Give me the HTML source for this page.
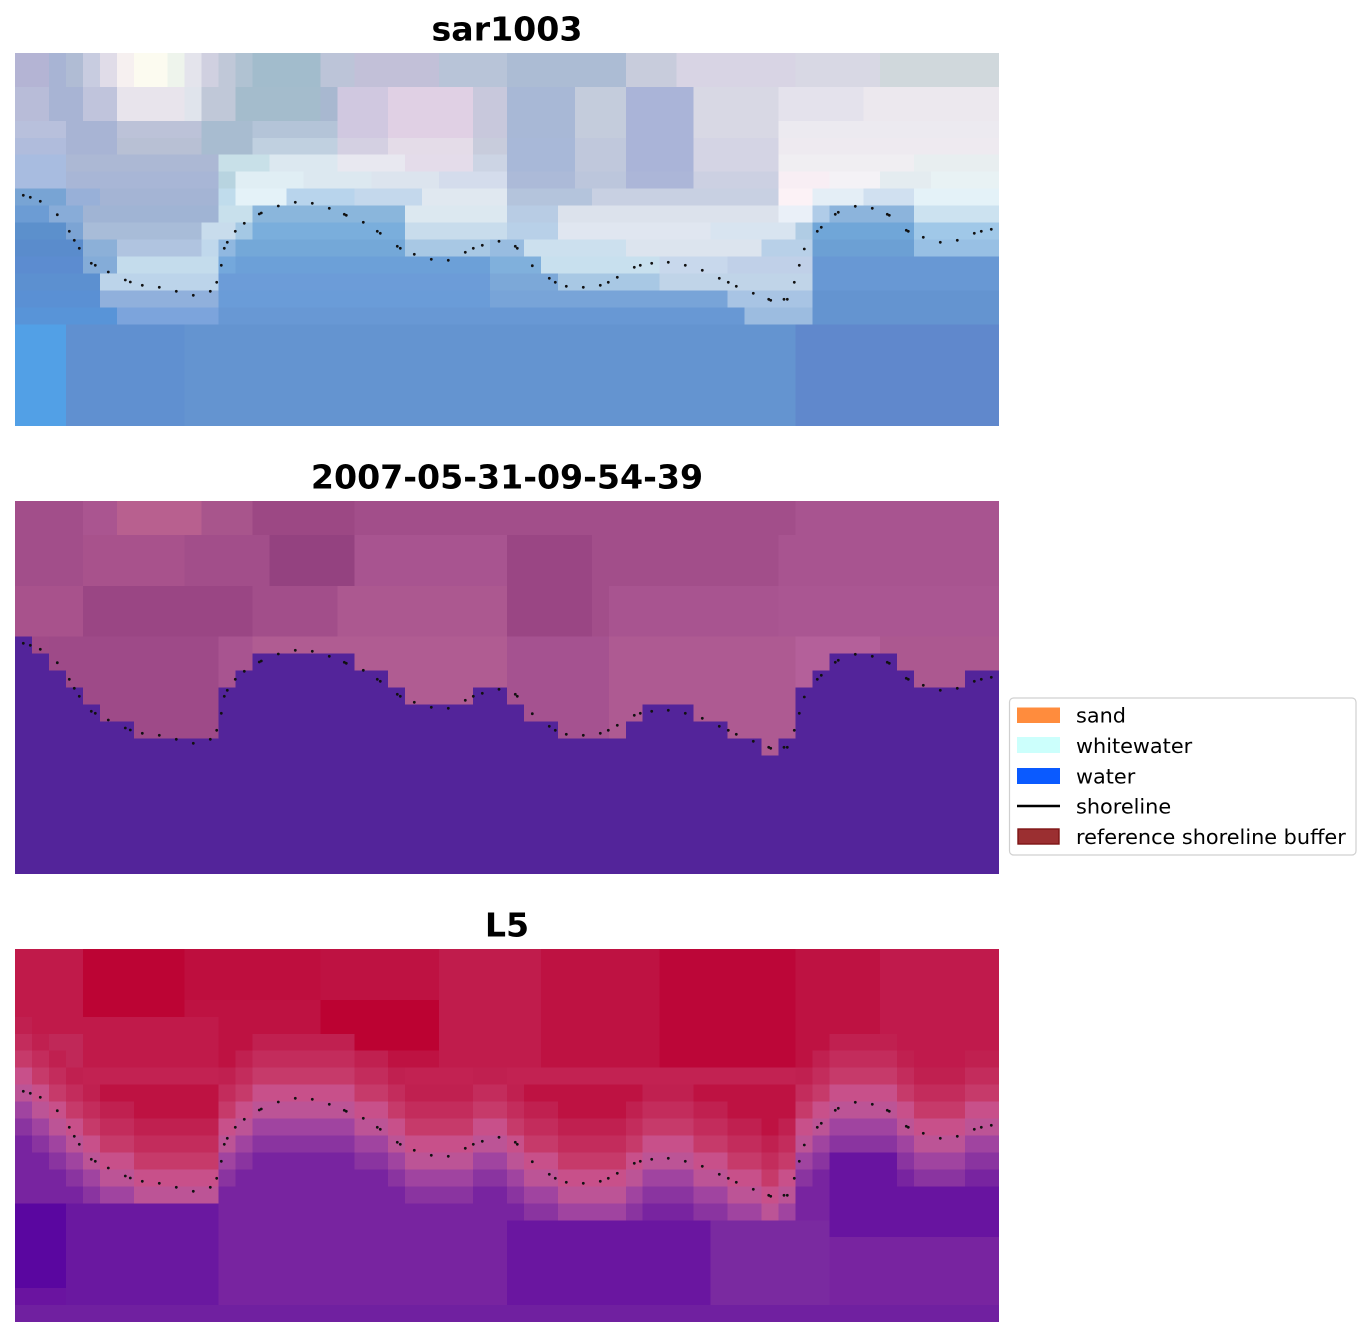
<!DOCTYPE html>
<html><head><meta charset="utf-8"><style>
html,body{margin:0;padding:0;background:#fff;width:1370px;height:1337px;overflow:hidden;}
svg{display:block;}
text{font-family:"DejaVu Sans","Liberation Sans",sans-serif;fill:#000;}
</style></head><body>
<svg width="1370" height="1337" viewBox="0 0 1370 1337" xmlns="http://www.w3.org/2000/svg">
<defs>
<path id="wb" d="M0,8 H1 V9 H2 V10 H3 V11 H4 V12 H5 V13 H7 V14 H12 V11 H13 V10 H14 V9 H20 V10 H22 V11 H23 V12 H27 V11 H29 V12 H30 V13 H32 V14 H36 V13 H37 V12 H40 V13 H42 V14 H44 V15 H45 V14 H46 V11 H47 V10 H48 V9 H52 V10 H53 V11 H56 V10 H58 V22 H0 Z"/>
<path id="wb3" d="M0,8 H1 V9 H2 V10 H3 V11 H4 V12 H5 V13 H7 V14 H12 V11 H13 V10 H14 V9 H20 V10 H22 V11 H23 V12 H27 V11 H29 V12 H30 V13 H32 V14 H36 V13 H37 V12 H40 V13 H42 V14 H44 V15 H45 V14 H46 V11 H47 V10 H48 V9 H52 V10 H53 V11 H56 V10 H58 V19 H0 Z"/>
<g id="dots" fill="#111">
<circle cx="23.3" cy="195.3" r="1.4"/><circle cx="30.3" cy="197.3" r="1.4"/><circle cx="40.3" cy="201.3" r="1.4"/><circle cx="57.3" cy="214.7" r="1.4"/><circle cx="69.3" cy="231.3" r="1.4"/><circle cx="74.3" cy="240.3" r="1.4"/><circle cx="79.3" cy="248.3" r="1.4"/><circle cx="91.3" cy="263.3" r="1.4"/><circle cx="95.3" cy="265.3" r="1.4"/><circle cx="108.3" cy="272" r="1.4"/><circle cx="125.3" cy="280" r="1.4"/><circle cx="130.3" cy="282" r="1.4"/><circle cx="142.3" cy="285.3" r="1.4"/><circle cx="159.3" cy="287.3" r="1.4"/><circle cx="176.3" cy="291.3" r="1.4"/><circle cx="193.3" cy="295.3" r="1.4"/><circle cx="210.3" cy="291.3" r="1.4"/><circle cx="216.7" cy="282.3" r="1.4"/><circle cx="221.3" cy="265.3" r="1.4"/><circle cx="224.3" cy="248.3" r="1.4"/><circle cx="227.3" cy="242.3" r="1.4"/><circle cx="235.3" cy="231.3" r="1.4"/><circle cx="244.3" cy="223.3" r="1.4"/><circle cx="259.3" cy="214" r="1.4"/><circle cx="261.3" cy="213" r="1.4"/><circle cx="278.3" cy="206" r="1.4"/><circle cx="295.3" cy="202.3" r="1.4"/><circle cx="312.3" cy="203.3" r="1.4"/><circle cx="329.3" cy="208.3" r="1.4"/><circle cx="344.3" cy="214.3" r="1.4"/><circle cx="346.3" cy="215.3" r="1.4"/><circle cx="363.3" cy="222.3" r="1.4"/><circle cx="377.3" cy="231.3" r="1.4"/><circle cx="380.3" cy="233.3" r="1.4"/><circle cx="397.3" cy="246.3" r="1.4"/><circle cx="400.3" cy="248.3" r="1.4"/><circle cx="414.3" cy="254.3" r="1.4"/><circle cx="431.3" cy="259.3" r="1.4"/><circle cx="448.3" cy="260.3" r="1.4"/><circle cx="465.3" cy="252.3" r="1.4"/><circle cx="473.3" cy="248.3" r="1.4"/><circle cx="482.3" cy="245.3" r="1.4"/><circle cx="499" cy="241.3" r="1.4"/><circle cx="515.3" cy="246.3" r="1.4"/><circle cx="517.3" cy="248.3" r="1.4"/><circle cx="532.3" cy="265.7" r="1.4"/><circle cx="549.3" cy="278.3" r="1.4"/><circle cx="555.3" cy="282.3" r="1.4"/><circle cx="566.3" cy="286.3" r="1.4"/><circle cx="583.3" cy="287.3" r="1.4"/><circle cx="600.3" cy="285.3" r="1.4"/><circle cx="608.3" cy="282.3" r="1.4"/><circle cx="617.3" cy="277.3" r="1.4"/><circle cx="634.3" cy="267.3" r="1.4"/><circle cx="640.3" cy="265.3" r="1.4"/><circle cx="651.7" cy="263.3" r="1.4"/><circle cx="668.3" cy="262.3" r="1.4"/><circle cx="685.3" cy="265.3" r="1.4"/><circle cx="702.3" cy="270.3" r="1.4"/><circle cx="719.3" cy="278.3" r="1.4"/><circle cx="728.3" cy="282.3" r="1.4"/><circle cx="736.3" cy="286.3" r="1.4"/><circle cx="753.3" cy="293.3" r="1.4"/><circle cx="768.7" cy="299.3" r="1.4"/><circle cx="770.7" cy="300.3" r="1.4"/><circle cx="784" cy="299.3" r="1.4"/><circle cx="787.3" cy="299.3" r="1.4"/><circle cx="794.3" cy="282.3" r="1.4"/><circle cx="799.3" cy="265.3" r="1.4"/><circle cx="804.3" cy="249" r="1.4"/><circle cx="817.3" cy="231.3" r="1.4"/><circle cx="821.3" cy="227.3" r="1.4"/><circle cx="835.3" cy="214.3" r="1.4"/><circle cx="838.3" cy="212.3" r="1.4"/><circle cx="855.3" cy="206.3" r="1.4"/><circle cx="872.3" cy="208.3" r="1.4"/><circle cx="887.3" cy="214.3" r="1.4"/><circle cx="889.3" cy="215.3" r="1.4"/><circle cx="906.3" cy="230.3" r="1.4"/><circle cx="908.3" cy="231.3" r="1.4"/><circle cx="923.3" cy="237.3" r="1.4"/><circle cx="940.3" cy="242.3" r="1.4"/><circle cx="957.3" cy="240.3" r="1.4"/><circle cx="974.3" cy="233.3" r="1.4"/><circle cx="981.3" cy="231.3" r="1.4"/><circle cx="991.3" cy="229.3" r="1.4"/>
</g>
</defs>
<rect width="1370" height="1337" fill="#fff"/>

<!-- Titles -->
<text x="507" y="40.5" font-size="33.2" font-weight="bold" text-anchor="middle">sar1003</text>
<text x="507" y="488.5" font-size="33.2" font-weight="bold" text-anchor="middle">2007-05-31-09-54-39</text>
<text x="507" y="936.5" font-size="33.2" font-weight="bold" text-anchor="middle">L5</text>

<!-- Panel 1 -->
<svg x="15" y="53" width="984" height="373" viewBox="0 0 58 22" preserveAspectRatio="none" shape-rendering="crispEdges">
<rect width="58" height="22" fill="#6494d0"/>
<g>
<rect x="0" y="0" width="58" height="2" fill="#b8c4d8"/>
<rect x="0" y="0" width="2" height="2" fill="#b4b4d4"/><rect x="2" y="0" width="1" height="2" fill="#a8b4d4"/><rect x="3" y="0" width="1" height="2" fill="#b0bcd4"/><rect x="4" y="0" width="1" height="2" fill="#c8cce0"/><rect x="5" y="0" width="1" height="2" fill="#e0dce8"/><rect x="6" y="0" width="1" height="2" fill="#f6f0f0"/><rect x="7" y="0" width="2" height="2" fill="#fcfbf0"/><rect x="9" y="0" width="1" height="2" fill="#eef4ec"/><rect x="10" y="0" width="1" height="2" fill="#e4e4ec"/><rect x="11" y="0" width="1" height="2" fill="#d0d0e0"/><rect x="12" y="0" width="1" height="2" fill="#c0c8d8"/><rect x="13" y="0" width="1" height="2" fill="#b0c2d2"/><rect x="14" y="0" width="4" height="2" fill="#a2bccc"/><rect x="18" y="0" width="2" height="2" fill="#bcc4d8"/><rect x="20" y="0" width="5" height="2" fill="#c2c0d8"/><rect x="25" y="0" width="4" height="2" fill="#b8c4d8"/><rect x="29" y="0" width="7" height="2" fill="#acbcd4"/><rect x="36" y="0" width="3" height="2" fill="#c8ccdc"/><rect x="39" y="0" width="7" height="2" fill="#d8d4e4"/><rect x="46" y="0" width="5" height="2" fill="#d8d8e4"/><rect x="51" y="0" width="7" height="2" fill="#d0d8dc"/>

<rect x="0" y="2" width="2" height="2" fill="#b8bcd8"/><rect x="2" y="2" width="2" height="2" fill="#a8b4d4"/><rect x="4" y="2" width="2" height="2" fill="#c0c4dc"/><rect x="6" y="2" width="4" height="2" fill="#e8e4ec"/><rect x="10" y="2" width="1" height="2" fill="#e0e4ec"/><rect x="11" y="2" width="2" height="2" fill="#c0c8d8"/><rect x="13" y="2" width="5" height="2" fill="#a4bccc"/><rect x="18" y="2" width="1" height="2" fill="#a8b8d0"/><rect x="19" y="2" width="3" height="2" fill="#d0c8e0"/><rect x="22" y="2" width="5" height="2" fill="#e0d0e4"/><rect x="27" y="2" width="2" height="2" fill="#c8c8dc"/><rect x="29" y="2" width="4" height="2" fill="#a8b8d6"/><rect x="33" y="2" width="3" height="2" fill="#c4ccdc"/><rect x="36" y="2" width="4" height="2" fill="#aab4d8"/><rect x="40" y="2" width="5" height="2" fill="#d8d8e4"/><rect x="45" y="2" width="5" height="2" fill="#e4e2ec"/><rect x="50" y="2" width="8" height="2" fill="#ece8ee"/>

<rect x="0" y="4" width="3" height="1" fill="#b8c0dc"/><rect x="3" y="4" width="3" height="1" fill="#a8b4d4"/><rect x="6" y="4" width="5" height="1" fill="#bcc2d8"/><rect x="11" y="4" width="3" height="1" fill="#a8bcd0"/><rect x="14" y="4" width="5" height="1" fill="#b4c4d8"/><rect x="19" y="4" width="3" height="1" fill="#d0c8e0"/><rect x="22" y="4" width="5" height="1" fill="#e0d0e4"/><rect x="27" y="4" width="2" height="1" fill="#c8c8dc"/><rect x="29" y="4" width="4" height="1" fill="#a8b8d6"/><rect x="33" y="4" width="3" height="1" fill="#c4ccdc"/><rect x="36" y="4" width="4" height="1" fill="#aab4d8"/><rect x="40" y="4" width="5" height="1" fill="#d8d8e4"/><rect x="45" y="4" width="13" height="1" fill="#eceaf0"/>

<rect x="0" y="5" width="3" height="1" fill="#b0bcdc"/><rect x="3" y="5" width="3" height="1" fill="#a8b4d4"/><rect x="6" y="5" width="5" height="1" fill="#b8c0d4"/><rect x="11" y="5" width="3" height="1" fill="#a8bcd0"/><rect x="14" y="5" width="5" height="1" fill="#c0d0e0"/><rect x="19" y="5" width="3" height="1" fill="#d4d0e2"/><rect x="22" y="5" width="5" height="1" fill="#e4dce8"/><rect x="27" y="5" width="2" height="1" fill="#c8ccdc"/><rect x="29" y="5" width="4" height="1" fill="#a8b8d8"/><rect x="33" y="5" width="3" height="1" fill="#c0c8dc"/><rect x="36" y="5" width="4" height="1" fill="#aab4d8"/><rect x="40" y="5" width="5" height="1" fill="#d4d4e4"/><rect x="45" y="5" width="13" height="1" fill="#eeeaf0"/>

<rect x="0" y="6" width="3" height="1" fill="#a8bce0"/><rect x="3" y="6" width="9" height="1" fill="#acb8d4"/><rect x="12" y="6" width="3" height="1" fill="#c8e0e8"/><rect x="15" y="6" width="4" height="1" fill="#dce8f0"/><rect x="19" y="6" width="4" height="1" fill="#e8e8f0"/><rect x="23" y="6" width="4" height="1" fill="#e4dcea"/><rect x="27" y="6" width="2" height="1" fill="#ccd4e4"/><rect x="29" y="6" width="4" height="1" fill="#a8b8d8"/><rect x="33" y="6" width="3" height="1" fill="#c0c8dc"/><rect x="36" y="6" width="4" height="1" fill="#aab4d8"/><rect x="40" y="6" width="5" height="1" fill="#d4d4e4"/><rect x="45" y="6" width="8" height="1" fill="#f0eef2"/><rect x="53" y="6" width="5" height="1" fill="#e8eef0"/>

<rect x="0" y="7" width="3" height="1" fill="#a8bce0"/><rect x="3" y="7" width="9" height="1" fill="#a8b6d6"/><rect x="12" y="7" width="1" height="1" fill="#b8d4e0"/><rect x="13" y="7" width="4" height="1" fill="#e0eef4"/><rect x="17" y="7" width="4" height="1" fill="#dce8f0"/><rect x="21" y="7" width="4" height="1" fill="#dce4ee"/><rect x="25" y="7" width="4" height="1" fill="#d4dcec"/><rect x="29" y="7" width="4" height="1" fill="#acbad8"/><rect x="33" y="7" width="3" height="1" fill="#bcc6dc"/><rect x="36" y="7" width="4" height="1" fill="#acb6d8"/><rect x="40" y="7" width="5" height="1" fill="#ccd0e2"/><rect x="45" y="7" width="3" height="1" fill="#f8eef4"/><rect x="48" y="7" width="3" height="1" fill="#f4f2f6"/><rect x="51" y="7" width="3" height="1" fill="#e4ecf0"/><rect x="54" y="7" width="4" height="1" fill="#e8f2f4"/>

<rect x="0" y="8" width="3" height="1" fill="#78a4d4"/><rect x="3" y="8" width="2" height="1" fill="#98b0d8"/><rect x="5" y="8" width="7" height="1" fill="#a4b4d4"/><rect x="12" y="8" width="1" height="1" fill="#c0dcec"/><rect x="13" y="8" width="3" height="1" fill="#e4f2f8"/><rect x="16" y="8" width="4" height="1" fill="#b8d4ec"/><rect x="20" y="8" width="4" height="1" fill="#c4d8ec"/><rect x="24" y="8" width="5" height="1" fill="#e0e8f0"/><rect x="29" y="8" width="5" height="1" fill="#b4c4dc"/><rect x="34" y="8" width="11" height="1" fill="#c8d0e2"/><rect x="45" y="8" width="2" height="1" fill="#fcf2f6"/><rect x="47" y="8" width="3" height="1" fill="#e4eef6"/><rect x="50" y="8" width="3" height="1" fill="#d0e0f0"/><rect x="53" y="8" width="5" height="1" fill="#e4f2f8"/>

<rect x="0" y="9" width="2" height="1" fill="#6c9cd4"/><rect x="2" y="9" width="2" height="1" fill="#88acd8"/><rect x="4" y="9" width="8" height="1" fill="#a0b4d4"/><rect x="12" y="9" width="2" height="1" fill="#c8e0ec"/><rect x="14" y="9" width="9" height="1" fill="#8ab6dc"/><rect x="23" y="9" width="6" height="1" fill="#dce8f0"/><rect x="29" y="9" width="3" height="1" fill="#b8cce4"/><rect x="32" y="9" width="13" height="1" fill="#dce2ec"/><rect x="45" y="9" width="2" height="1" fill="#eaf0f8"/><rect x="47" y="9" width="1" height="1" fill="#b0cce8"/><rect x="48" y="9" width="5" height="1" fill="#8cb4dc"/><rect x="53" y="9" width="5" height="1" fill="#cce2f0"/>

<rect x="0" y="10" width="3" height="1" fill="#5c90cc"/><rect x="3" y="10" width="1" height="1" fill="#7ca4d4"/><rect x="4" y="10" width="7" height="1" fill="#a8bcd8"/><rect x="11" y="10" width="2" height="1" fill="#c8dcec"/><rect x="13" y="10" width="1" height="1" fill="#a4c8e4"/><rect x="14" y="10" width="9" height="1" fill="#7aaedc"/><rect x="23" y="10" width="6" height="1" fill="#c8dcec"/><rect x="29" y="10" width="3" height="1" fill="#b8d0e8"/><rect x="32" y="10" width="9" height="1" fill="#e0e6f0"/><rect x="41" y="10" width="5" height="1" fill="#d8e4f0"/><rect x="46" y="10" width="1" height="1" fill="#b0cce4"/><rect x="47" y="10" width="6" height="1" fill="#70a6d8"/><rect x="53" y="10" width="5" height="1" fill="#a0c8e8"/>

<rect x="0" y="11" width="4" height="1" fill="#5a8ccc"/><rect x="4" y="11" width="2" height="1" fill="#8cb0d8"/><rect x="6" y="11" width="5" height="1" fill="#b0c4e0"/><rect x="11" y="11" width="1" height="1" fill="#c0d8ec"/><rect x="12" y="11" width="1" height="1" fill="#90b8e0"/><rect x="13" y="11" width="10" height="1" fill="#74a8d8"/><rect x="23" y="11" width="5" height="1" fill="#a8c8e4"/><rect x="28" y="11" width="2" height="1" fill="#98bce0"/><rect x="30" y="11" width="6" height="1" fill="#cce0ee"/><rect x="36" y="11" width="8" height="1" fill="#dce4ee"/><rect x="44" y="11" width="3" height="1" fill="#b8d0e8"/><rect x="47" y="11" width="6" height="1" fill="#6ca0d4"/><rect x="53" y="11" width="5" height="1" fill="#98c0e4"/>

<rect x="0" y="12" width="4" height="1" fill="#5c8cd0"/><rect x="4" y="12" width="2" height="1" fill="#84acd8"/><rect x="6" y="12" width="6" height="1" fill="#c4dcec"/><rect x="12" y="12" width="1" height="1" fill="#74a8dc"/><rect x="13" y="12" width="15" height="1" fill="#6ca0d8"/><rect x="28" y="12" width="3" height="1" fill="#80b0dc"/><rect x="31" y="12" width="7" height="1" fill="#c8e0ee"/><rect x="38" y="12" width="4" height="1" fill="#c8d8ec"/><rect x="42" y="12" width="5" height="1" fill="#c0d0e8"/><rect x="47" y="12" width="11" height="1" fill="#6898d4"/>

<rect x="0" y="13" width="5" height="1" fill="#5c90d0"/><rect x="5" y="13" width="7" height="1" fill="#bcd4ea"/><rect x="12" y="13" width="16" height="1" fill="#6c9cd8"/><rect x="28" y="13" width="4" height="1" fill="#7ca8d8"/><rect x="32" y="13" width="6" height="1" fill="#a8c8e4"/><rect x="38" y="13" width="9" height="1" fill="#c0d4e8"/><rect x="47" y="13" width="11" height="1" fill="#6898d4"/>

<rect x="0" y="14" width="5" height="1" fill="#5a90d4"/><rect x="5" y="14" width="7" height="1" fill="#90b0dc"/><rect x="12" y="14" width="16" height="1" fill="#6a9cd8"/><rect x="28" y="14" width="14" height="1" fill="#78a4d8"/><rect x="42" y="14" width="5" height="1" fill="#a8c4e4"/><rect x="47" y="14" width="11" height="1" fill="#6494d0"/>

<rect x="0" y="15" width="6" height="1" fill="#5894d8"/><rect x="6" y="15" width="6" height="1" fill="#7ca4dc"/><rect x="12" y="15" width="31" height="1" fill="#6898d4"/><rect x="43" y="15" width="4" height="1" fill="#9cbce0"/><rect x="47" y="15" width="11" height="1" fill="#6494d0"/>

<rect x="0" y="16" width="3" height="6" fill="#52a0e6"/><rect x="3" y="16" width="7" height="6" fill="#6090d0"/><rect x="46" y="16" width="12" height="6" fill="#6088cc"/>
</g>
</svg>

<!-- Panel 2 -->
<svg x="15" y="501" width="984" height="373" viewBox="0 0 58 22" preserveAspectRatio="none" shape-rendering="crispEdges">
<rect width="58" height="22" fill="#a24e8a"/>
<rect x="4" y="0" width="2" height="2" fill="#aa5590"/><rect x="6" y="0" width="5" height="2" fill="#b8608f"/><rect x="11" y="0" width="3" height="2" fill="#a8558c"/><rect x="14" y="0" width="6" height="2" fill="#9c4884"/><rect x="46" y="0" width="12" height="2" fill="#a85490"/>
<rect x="4" y="2" width="6" height="3" fill="#a8528c"/><rect x="15" y="2" width="5" height="3" fill="#944280"/><rect x="20" y="2" width="9" height="3" fill="#a85490"/><rect x="29" y="2" width="5" height="3" fill="#9a4684"/><rect x="45" y="2" width="13" height="3" fill="#a85490"/>
<rect x="0" y="5" width="4" height="3" fill="#a8528c"/><rect x="4" y="5" width="10" height="3" fill="#9a4684"/><rect x="19" y="5" width="10" height="3" fill="#ac5890"/><rect x="29" y="5" width="5" height="3" fill="#9a4684"/><rect x="35" y="5" width="10" height="3" fill="#a85490"/><rect x="45" y="5" width="13" height="3" fill="#aa5692"/>
<rect x="0" y="8" width="2" height="8" fill="#a04a88"/><rect x="2" y="8" width="10" height="8" fill="#9e4a88"/><rect x="12" y="8" width="2" height="8" fill="#a85490"/><rect x="14" y="8" width="15" height="8" fill="#b05c92"/><rect x="29" y="8" width="6" height="8" fill="#a55290"/><rect x="35" y="8" width="11" height="8" fill="#ae5a92"/><rect x="46" y="8" width="5" height="8" fill="#b4609a"/><rect x="51" y="8" width="7" height="8" fill="#ac5890"/>
<use href="#wb" fill="#53249a"/>
</svg>

<!-- Panel 3 -->
<svg x="15" y="949" width="984" height="373" viewBox="0 0 58 22" preserveAspectRatio="none" shape-rendering="crispEdges">
<rect width="58" height="22" fill="#be1242"/>
<rect x="0" y="0" width="4" height="5" fill="#c01a4a"/><rect x="4" y="0" width="6" height="4" fill="#bc0434"/><rect x="10" y="0" width="8" height="3" fill="#be0e3e"/><rect x="18" y="3" width="7" height="3" fill="#bc0232"/><rect x="25" y="0" width="6" height="8" fill="#c01c4c"/><rect x="38" y="0" width="8" height="7" fill="#bc0638"/><rect x="51" y="0" width="7" height="7" fill="#c01a4c"/>
<rect x="0" y="5" width="4" height="3" fill="#c02858"/><rect x="4" y="4" width="8" height="4" fill="#c01a4a"/>
<rect x="0" y="7" width="58" height="1" fill="#c22252"/>
<use href="#wb" y="-4" fill="#c02050"/>
<use href="#wb" y="-3" fill="#c32c5c"/>
<use href="#wb" y="-2" fill="#c63a6a"/>
<use href="#wb" y="-1" fill="#c8508a"/>
<use href="#wb" y="0" fill="#bc5496"/>
<use href="#wb3" y="1" fill="#a044a0"/>
<use href="#wb3" y="2" fill="#8a34a0"/>
<use href="#wb3" y="3" fill="#7824a0"/>
<rect x="0" y="15" width="3" height="5" fill="#5a06a0"/><rect x="0" y="20" width="3" height="2" fill="#6a14a0"/><rect x="3" y="15" width="9" height="7" fill="#6a18a0"/><rect x="29" y="16" width="12" height="5" fill="#6a16a0"/><rect x="41" y="16" width="7" height="6" fill="#7a2aa0"/><rect x="48" y="12" width="4" height="5" fill="#6814a0"/><rect x="52" y="14" width="6" height="3" fill="#6814a0"/><rect x="0" y="21" width="58" height="1" fill="#7020a0"/>
</svg>

<!-- Shoreline dots -->
<use href="#dots"/>
<use href="#dots" y="448"/>
<use href="#dots" y="896"/>

<!-- Legend -->
<rect x="1009.5" y="698" width="346.5" height="157" rx="4" ry="4" fill="#fff" stroke="#d0d0d0" stroke-width="1.2"/>
<rect x="1017" y="707.5" width="43" height="15.5" fill="#ff8c3d"/>
<rect x="1017" y="737" width="43" height="16" fill="#ccfffc"/>
<rect x="1017" y="768" width="43" height="16" fill="#0a5aff"/>
<line x1="1017" y1="806" x2="1060" y2="806" stroke="#000" stroke-width="2.6"/>
<rect x="1018" y="829" width="41" height="15" fill="#9b2f31" stroke="#7d1515" stroke-width="1.4"/>
<text x="1076" y="722.5" font-size="20.8">sand</text>
<text x="1076" y="753" font-size="20.8">whitewater</text>
<text x="1076" y="783.5" font-size="20.8">water</text>
<text x="1076" y="813.5" font-size="20.8">shoreline</text>
<text x="1076" y="844" font-size="20.8">reference shoreline buffer</text>
</svg>
</body></html>
